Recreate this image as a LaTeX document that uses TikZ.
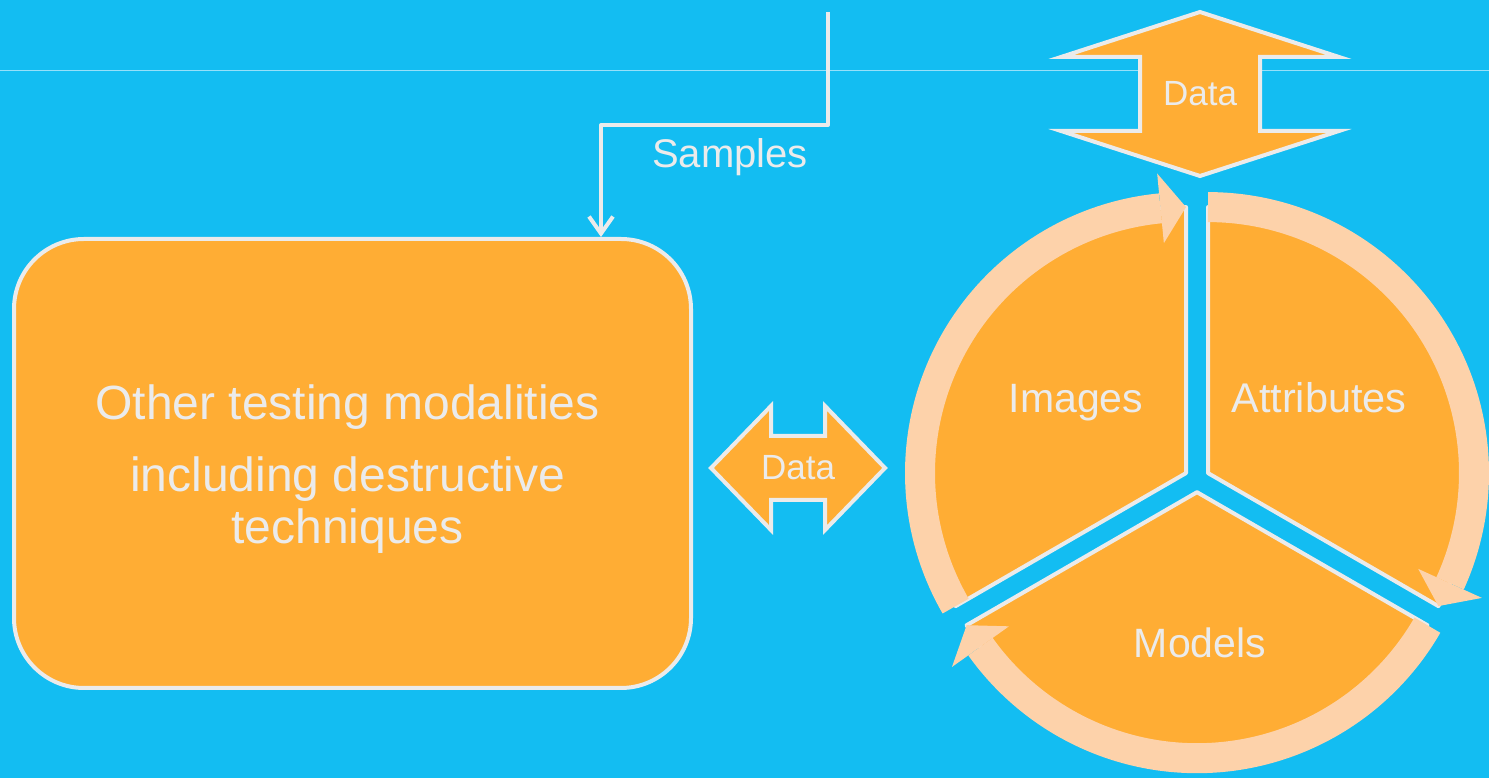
\documentclass[tikz,border=0pt]{standalone}
\usepackage{fontspec}
\setmainfont{Liberation Sans}
\usetikzlibrary{arrows.meta}
\definecolor{bgcyan}{RGB}{19,189,242}
\definecolor{boxorange}{RGB}{255,173,52}
\definecolor{ringpeach}{RGB}{253,210,170}
\definecolor{edgegrey}{RGB}{235,235,235}
\definecolor{rulecyan}{RGB}{150,224,250}
\begin{document}
\begin{tikzpicture}[x=1pt, y=1pt, >={Straight Barb[length=17pt,width=24pt]}, line join=round,
  flow/.style={draw=edgegrey, line width=4pt},
  bigbox/.style={draw=edgegrey, line width=4pt, fill=boxorange, rounded corners=70pt,
    minimum width=677pt, minimum height=449pt},
  boxtext/.style={text=edgegrey, align=center, font=\fontsize{48}{52}\selectfont},
  bigarrow/.style={fill=boxorange, draw=edgegrey, line width=4pt, line join=miter},
  sector/.style={fill=boxorange, draw=edgegrey, line width=4pt},
  ring/.style={draw=ringpeach, line width=30pt},
  lbl/.style={text=edgegrey, inner sep=0pt}]
\useasboundingbox (0,0) rectangle (1489,778);
\fill[bgcyan] (0,0) rectangle (1489,778);
\draw[rulecyan, line width=1pt] (0,707) -- (1489,707);

% testing box and samples feed
\node[bigbox] (box) at (352.5,314.5) {};
\node[boxtext, xshift=-5pt, yshift=-6pt] (boxlabel) at (box.center) {Other testing modalities\\[20pt]including destructive\\techniques};
\coordinate (samplesrc) at (828,766);
\coordinate (turn) at (601,653);
\draw[flow,->] (samplesrc) |- (turn) -- (turn |- box.north);
\node[lbl, anchor=base, font=\fontsize{40}{48}\selectfont] (samples) at (730,610) {Samples};

% data arrows
\coordinate (topmid) at (1200,684);
\draw[bigarrow] (topmid) +(0,82) -- +(139,37) -- +(60,37) -- +(60,-37) -- +(139,-37) -- +(0,-82)
  -- +(-139,-37) -- +(-60,-37) -- +(-60,37) -- +(-139,37) -- cycle;
\node[lbl, font=\fontsize{35}{42}\selectfont] (topdata) at (topmid) {Data};
\coordinate (leftmid) at (798,310);
\draw[bigarrow] (leftmid) +(-87,0) -- +(-27,62) -- +(-27,32) -- +(27,32) -- +(27,62) -- +(87,0)
  -- +(27,-62) -- +(27,-32) -- +(-27,-32) -- +(-27,-62) -- cycle;
\node[lbl, font=\fontsize{35}{42}\selectfont] (leftdata) at (leftmid) {Data};

% cycle of images, attributes, models
\coordinate (imgc) at (1186,304.9);
\coordinate (attc) at (1208,304.9);
\coordinate (modc) at (1197,285.8);
\filldraw[sector] (imgc) -- +(90:266) arc[start angle=90, end angle=210, radius=266] -- cycle;
\filldraw[sector] (attc) -- +(90:266) arc[start angle=90, end angle=-30, radius=266] -- cycle;
\filldraw[sector] (modc) -- +(-30:266) arc[start angle=-30, end angle=-150, radius=266] -- cycle;
\draw[ring] (imgc) +(210:266) arc[start angle=210, end angle=95.5, radius=266];
\fill[ringpeach] (imgc) +(95.5:231) -- +(90:266) -- +(95.5:301) -- cycle;
\draw[ring] (attc) +(90:266) arc[start angle=90, end angle=-24.5, radius=266];
\fill[ringpeach] (attc) +(-24.5:231) -- +(-30:266) -- +(-24.5:301) -- cycle;
\draw[ring] (modc) +(-30:266) arc[start angle=-30, end angle=-144.5, radius=266];
\fill[ringpeach] (modc) +(-144.5:231) -- +(-150:266) -- +(-144.5:301) -- cycle;
\node[lbl, anchor=base, font=\fontsize{41}{49}\selectfont] (images) at (1076,365) {Images};
\node[lbl, anchor=base, font=\fontsize{41.5}{49}\selectfont] (attributes) at (1319,365) {Attributes};
\node[lbl, anchor=base, font=\fontsize{41}{49}\selectfont] (models) at (1200,120) {Models};
\end{tikzpicture}
\end{document}
